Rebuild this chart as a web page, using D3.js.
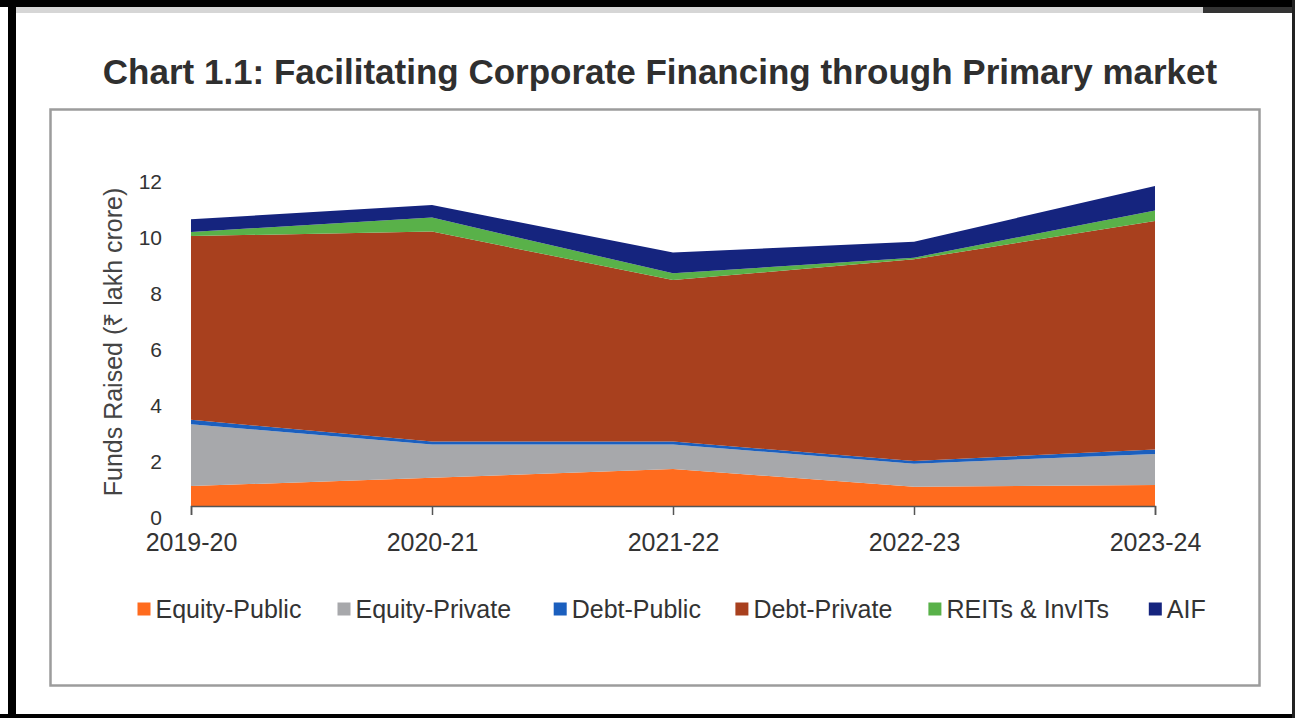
<!DOCTYPE html>
<html>
<head>
<meta charset="utf-8">
<script src="https://cdn.jsdelivr.net/npm/d3@7"></script>
<style>
  html, body { margin: 0; padding: 0; background: #fff; }
  svg { display: block; font-family: "Liberation Sans", Arial, Helvetica, sans-serif; }
</style>
</head>
<body>
<div id="chart"></div>
<script>
// chart data (₹ lakh crore)
const years = ['2019-20', '2020-21', '2021-22', '2022-23', '2023-24'];
const series_names = ['Equity-Public', 'Equity-Private', 'Debt-Public', 'Debt-Private', 'REITs & InvITs', 'AIF'];
const equity_public  = [0.71, 1.01, 1.32, 0.69, 0.75];
const equity_private = [2.21, 1.19, 0.88, 0.82, 1.11];
const debt_public    = [0.16, 0.10, 0.10, 0.10, 0.16];
const debt_private   = [6.56, 7.50, 5.77, 7.20, 8.16];
const reits_invits   = [0.15, 0.50, 0.24, 0.06, 0.37];
const aif            = [0.45, 0.45, 0.74, 0.57, 0.88];
const y_ticks = [0, 2, 4, 6, 8, 10, 12];

const series_colors = ['#FF6B1E', '#A7A8AB', '#1B5FBE', '#A8401E', '#59B149', '#15247E'];

// build rows for d3.stack
const all_values = [equity_public, equity_private, debt_public, debt_private, reits_invits, aif];
const rows = years.map((yr, i) => {
  const row = { year: yr };
  series_names.forEach((name, j) => { row[name] = all_values[j][i]; });
  return row;
});

const W = 1295, H = 718;
const svg = d3.select('#chart').append('svg')
  .attr('width', W)
  .attr('height', H);

// outer page frame (screenshot borders)
svg.append('rect').attr('x', 0).attr('y', 0).attr('width', W).attr('height', 7).attr('fill', '#000');
svg.append('rect').attr('x', 16).attr('y', 7).attr('width', 1187).attr('height', 6).attr('fill', '#d6d6d6');
svg.append('rect').attr('x', 1203).attr('y', 7).attr('width', W - 1203).attr('height', 6).attr('fill', '#333');
svg.append('rect').attr('x', 8).attr('y', 0).attr('width', 8).attr('height', H).attr('fill', '#000');
svg.append('rect').attr('x', 0).attr('y', 714).attr('width', W).attr('height', 4).attr('fill', '#000');
svg.append('rect').attr('x', 1292).attr('y', 0).attr('width', 3).attr('height', H).attr('fill', '#222');

// title
svg.append('text')
  .attr('x', 660)
  .attr('y', 84)
  .attr('text-anchor', 'middle')
  .attr('font-size', 35)
  .attr('font-weight', 'bold')
  .attr('fill', '#2f2f2f')
  .text('Chart 1.1: Facilitating Corporate Financing through Primary market');

// inner chart box
svg.append('rect')
  .attr('x', 50.5).attr('y', 109.5)
  .attr('width', 1209).attr('height', 576)
  .attr('fill', 'none')
  .attr('stroke', '#9c9c9c')
  .attr('stroke-width', 2.5);

// scales
const x = d3.scalePoint().domain(years).range([191, 1155]);
const y = d3.scaleLinear().domain([0, 12]).range([506, 170]);

const stack = d3.stack().keys(series_names);
const layers = stack(rows);

const area = d3.area()
  .x(d => x(d.data.year))
  .y0(d => y(d[0]))
  .y1(d => y(d[1]));

svg.append('g')
  .selectAll('path')
  .data(layers)
  .join('path')
  .attr('d', area)
  .attr('fill', (d, i) => series_colors[i]);

// x axis
const x_axis = svg.append('g')
  .attr('transform', `translate(0, ${y(0)})`)
  .call(d3.axisBottom(x).tickSizeOuter(0).tickSize(9).tickPadding(18));
x_axis.select('.domain').attr('stroke', '#555').attr('stroke-width', 1.5);
x_axis.selectAll('.tick line').attr('stroke', '#555').attr('stroke-width', 1.5);
x_axis.selectAll('.tick text')
  .attr('font-size', 25)
  .attr('font-family', '"Liberation Sans", Arial, sans-serif')
  .attr('fill', '#333');

// y axis: labels only, sitting a little below their levels as in the original
const y_axis = svg.append('g')
  .attr('transform', 'translate(190, 0)')
  .call(d3.axisLeft(y).tickValues(y_ticks).tickSize(0).tickPadding(28));
y_axis.select('.domain').remove();
y_axis.selectAll('.tick text')
  .attr('dy', '0.32em')
  .attr('y', 12)
  .attr('font-size', 21)
  .attr('font-family', '"Liberation Sans", Arial, sans-serif')
  .attr('fill', '#333');

// y axis title
svg.append('text')
  .attr('transform', 'translate(113, 342) rotate(-90)')
  .attr('text-anchor', 'middle')
  .attr('dominant-baseline', 'central')
  .attr('font-size', 25)
  .attr('fill', '#444')
  .text('Funds Raised (₹ lakh crore)');

// legend
const legend_x = [137.5, 337.5, 553.7, 735.4, 928.4, 1148.8];
const legend = svg.append('g')
  .selectAll('g')
  .data(series_names)
  .join('g')
  .attr('transform', (d, i) => `translate(${legend_x[i]}, 609)`);
legend.append('rect')
  .attr('x', 0).attr('y', -6.5)
  .attr('width', 13).attr('height', 13)
  .attr('fill', (d, i) => series_colors[i]);
legend.append('text')
  .attr('x', 18)
  .attr('dy', '0.35em')
  .attr('font-size', 25)
  .attr('fill', '#333')
  .text(d => d);
</script>
</body>
</html>
